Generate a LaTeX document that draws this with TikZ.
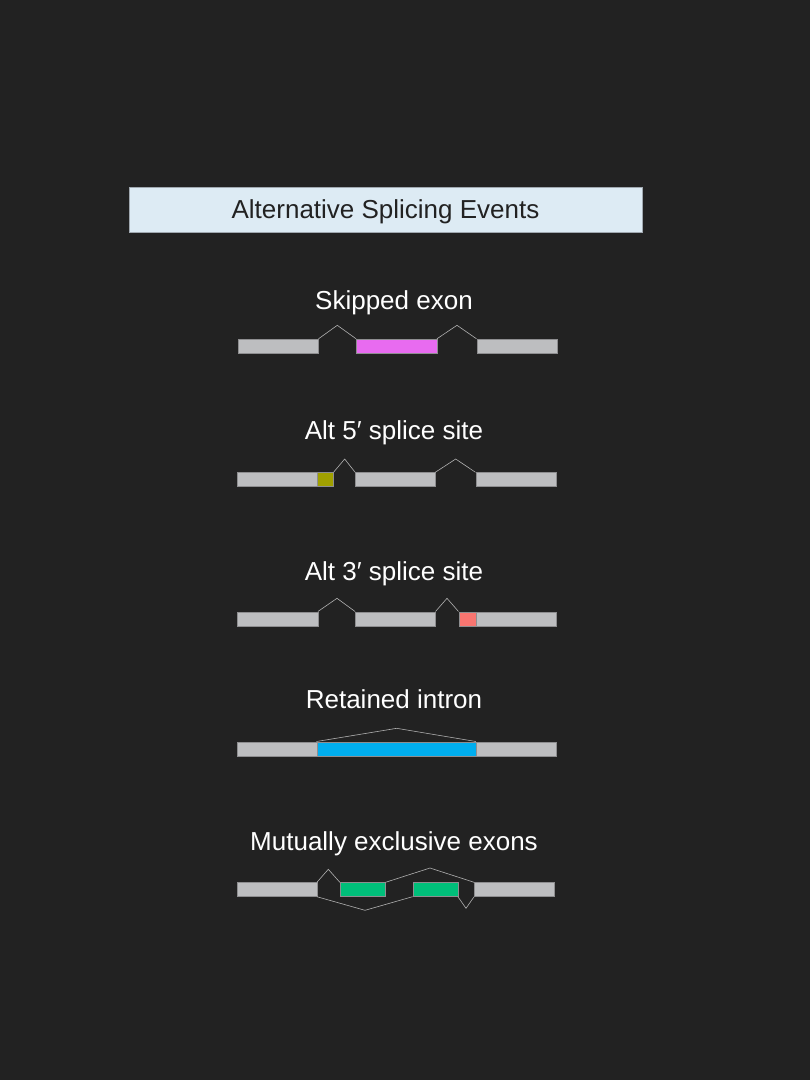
\documentclass[tikz,border=0pt]{standalone}
\usepackage{fontspec}
\setmainfont{Liberation Sans}
\definecolor{bg}{HTML}{222222}
\definecolor{exongray}{HTML}{BDBEC0}
\definecolor{exonedge}{HTML}{8E8E90}
\definecolor{junc}{HTML}{B0B0B0}
\definecolor{magentaex}{HTML}{E86BF0}
\definecolor{oliveex}{HTML}{A0A000}
\definecolor{salmonex}{HTML}{F87570}
\definecolor{blueex}{HTML}{00AEEF}
\definecolor{greenex}{HTML}{00BF7A}
\definecolor{titlefill}{HTML}{DDEBF4}
\definecolor{titleedge}{HTML}{A0A8B0}
\begin{document}
\begin{tikzpicture}[x=1pt,y=-1pt,
  exon/.style={rectangle, inner sep=0pt, minimum height=14pt, draw=exonedge, line width=0.4pt, fill=exongray},
  junction/.style={draw=junc, line width=0.6pt},
  evtitle/.style={text=white, font=\fontsize{26}{30}\selectfont, inner sep=0pt}]
\fill[bg] (0,0) rectangle (810,1080);
\useasboundingbox (0,0) rectangle (810,1080);

\node[rectangle, draw=titleedge, fill=titlefill, minimum width=513pt, minimum height=45pt, inner sep=0pt,
  text depth=0pt, text=bg, font=\fontsize{26}{30}\selectfont] (title) at (385.5,209.5) {Alternative Splicing Events};

% Skipped exon
\node[evtitle] (t1) at (394,302.5) {Skipped exon};
\node[exon, minimum width=80pt] (a1) at (278.3,346) {};
\node[exon, minimum width=80.4pt, fill=magentaex] (a2) at (396.5,346) {};
\node[exon, minimum width=80pt] (a3) at (516.7,346) {};
\coordinate (ap1) at (337.3,325.3);
\coordinate (ap2) at (457,325.3);
\draw[junction] (a1.north east) -- (ap1) -- (a2.north west);
\draw[junction] (a2.north east) -- (ap2) -- (a3.north west);

% Alt 5'
\node[evtitle] (t2) at (394,432.5) {Alt 5′ splice site};
\node[exon, minimum width=79.4pt] (b1) at (277,479.5) {};
\node[exon, minimum width=16.6pt, fill=oliveex] (b1x) at (325,479.5) {};
\node[exon, minimum width=79.7pt] (b2) at (395.2,479.5) {};
\node[exon, minimum width=80pt] (b3) at (515.7,479.5) {};
\coordinate (bp1) at (344.7,459);
\coordinate (bp2) at (455.7,459);
\draw[junction] (b1x.north east) -- (bp1) -- (b2.north west);
\draw[junction] (b2.north east) -- (bp2) -- (b3.north west);

% Alt 3'
\node[evtitle] (t3) at (394,573.5) {Alt 3′ splice site};
\node[exon, minimum width=80.4pt] (c1) at (277.5,618.7) {};
\node[exon, minimum width=80pt] (c2) at (395.3,618.7) {};
\node[exon, minimum width=17pt, fill=salmonex] (c3x) at (467.2,618.7) {};
\node[exon, minimum width=80pt] (c3) at (515.7,618.7) {};
\coordinate (cp1) at (337,598.3);
\coordinate (cp2) at (447,598.3);
\draw[junction] (c1.north east) -- (cp1) -- (c2.north west);
\draw[junction] (c2.north east) -- (cp2) -- (c3x.north west);

% Retained intron
\node[evtitle] (t4) at (394,699.5) {Retained intron};
\node[exon, minimum width=79.4pt] (d1) at (277,748.7) {};
\node[exon, minimum width=159pt, fill=blueex] (d2) at (396.2,748.7) {};
\node[exon, minimum width=80pt] (d3) at (515.7,748.7) {};
\coordinate (dp1) at (396.7,728.3);
\draw[junction] (d2.north west) -- (dp1) -- (d2.north east);

% Mutually exclusive exons
\node[evtitle] (t5) at (394,843.5) {Mutually exclusive exons};
\node[exon, minimum width=80pt] (e1) at (276.7,889.5) {};
\node[exon, minimum width=45.3pt, fill=greenex] (e2) at (362.7,889.5) {};
\node[exon, minimum width=45pt, fill=greenex] (e3) at (435.2,889.5) {};
\node[exon, minimum width=80pt] (e4) at (514.3,889.5) {};
\coordinate (ep1) at (328.3,869.3);
\coordinate (ep2) at (430,868);
\coordinate (ep3) at (365,910.3);
\coordinate (ep4) at (466,908.3);
\draw[junction] (e1.north east) -- (ep1) -- (e2.north west);
\draw[junction] (e2.north east) -- (ep2) -- (e4.north west);
\draw[junction] (e1.south east) -- (ep3) -- (e3.south west);
\draw[junction] (e3.south east) -- (ep4) -- (e4.south west);
\end{tikzpicture}
\end{document}
